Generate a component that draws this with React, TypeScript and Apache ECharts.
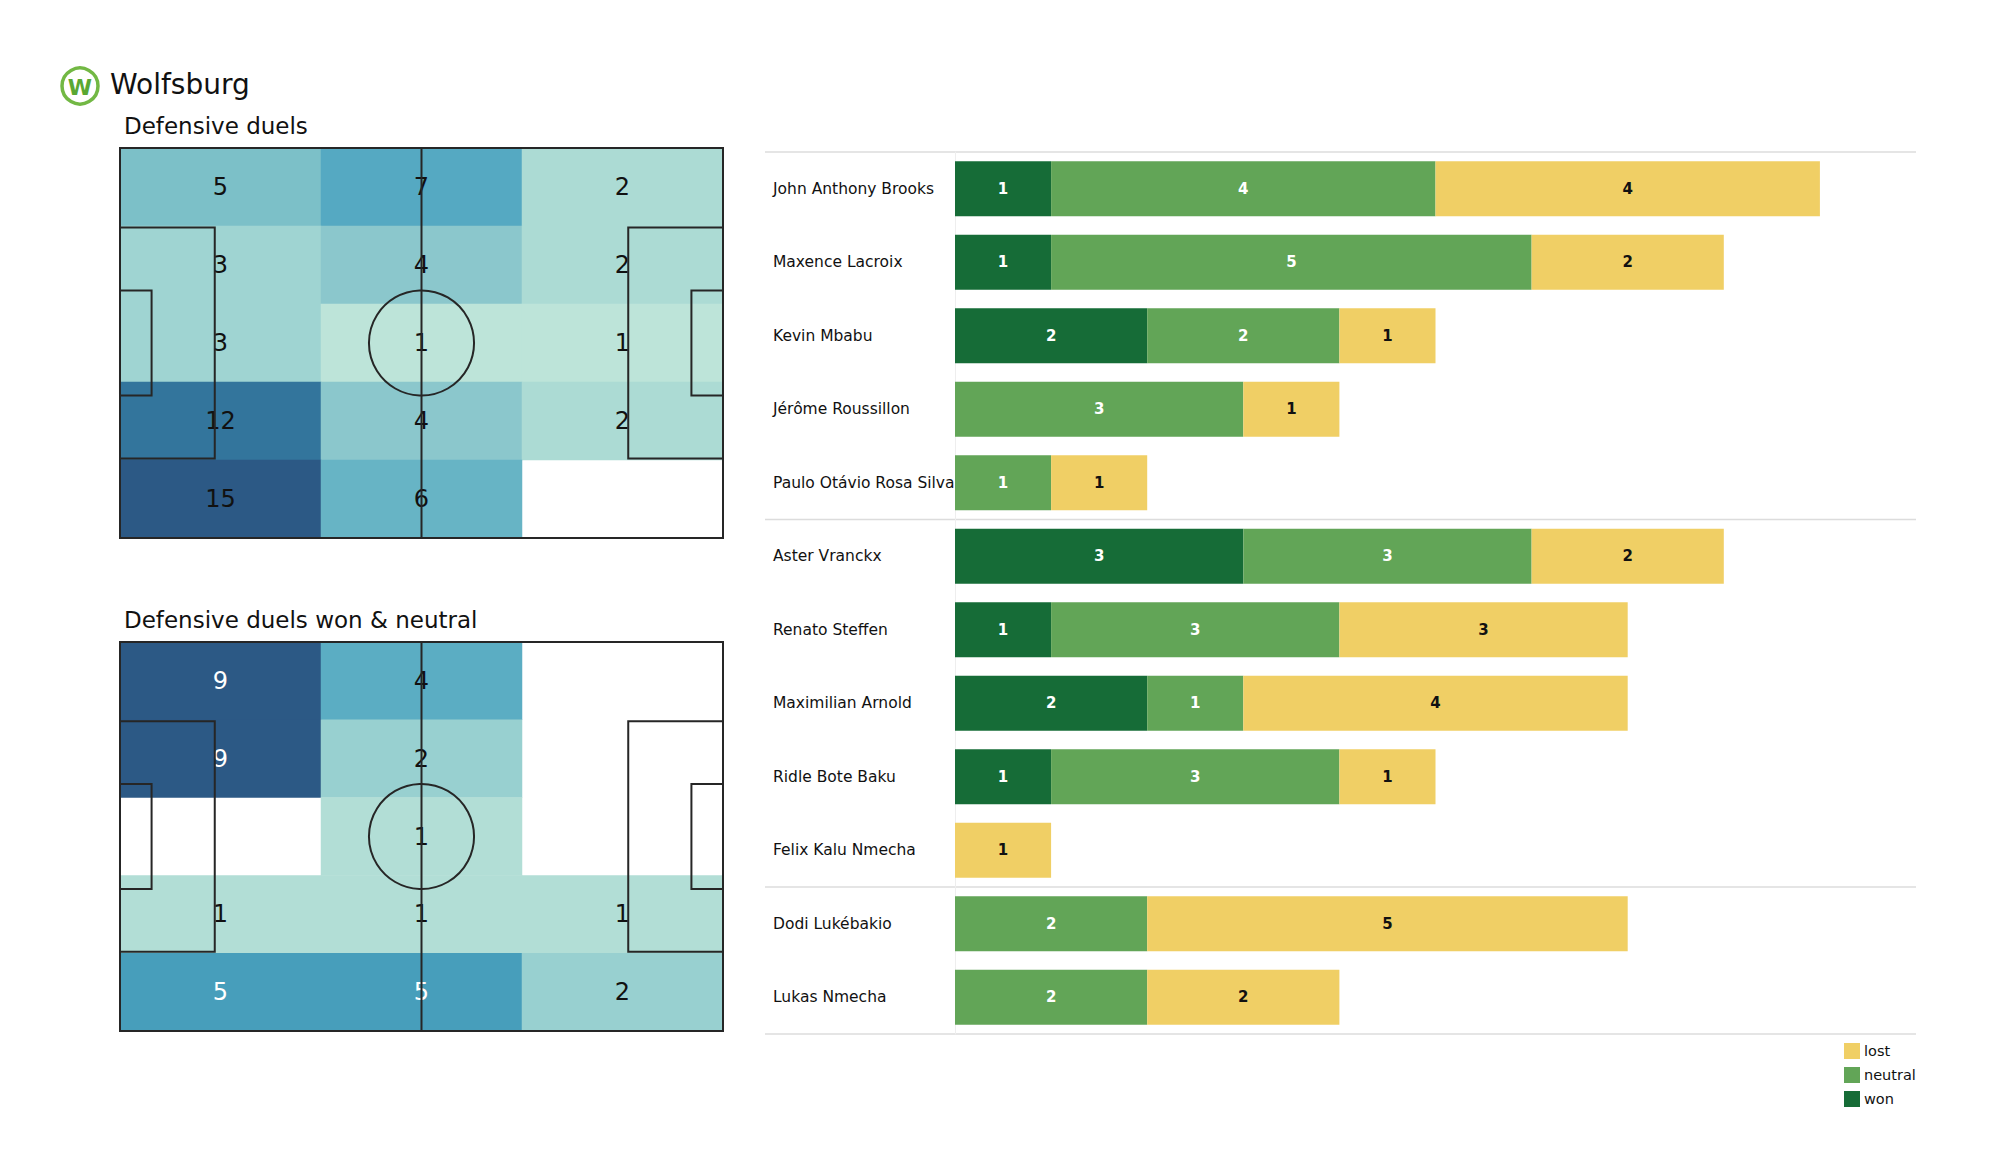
import React, { useEffect, useRef } from "react";
import * as echarts from "echarts";

// ---------- DATA ----------
const zoneCols = ["left", "centre", "right"];
const zoneRows = ["row1", "row2", "row3", "row4", "row5"];
// rows top -> bottom, columns left -> right
const defensiveDuels = [
  [5, 7, 2],
  [3, 4, 2],
  [3, 1, 1],
  [12, 4, 2],
  [15, 6, 0],
];
const defensiveDuelsWonNeutral = [
  [9, 4, 0],
  [9, 2, 0],
  [0, 1, 0],
  [1, 1, 1],
  [5, 5, 2],
];

const players = [
  "John Anthony Brooks",
  "Maxence Lacroix",
  "Kevin Mbabu",
  "Jérôme Roussillon",
  "Paulo Otávio Rosa Silva",
  "Aster Vranckx",
  "Renato Steffen",
  "Maximilian Arnold",
  "Ridle Bote Baku",
  "Felix Kalu Nmecha",
  "Dodi Lukébakio",
  "Lukas Nmecha",
];
const won = [1, 1, 2, 0, 0, 3, 1, 2, 1, 0, 0, 0];
const neutral = [4, 5, 2, 3, 1, 3, 3, 1, 3, 0, 2, 2];
const lost = [4, 2, 1, 1, 1, 2, 3, 4, 1, 1, 5, 2];
const groupSizes = [5, 5, 2];

// ---------- STYLE ----------
const FONT = "DejaVu Sans";
const C_WON = "#166c37";
const C_NEUTRAL = "#62a557";
const C_LOST = "#f0cf65";
const HEAT_COLORS = [
  "#c8eadc", "#bde4d9", "#acdbd4", "#9fd4d2", "#8bc7cc", "#7cc0c8",
  "#67b4c5", "#55a9c2", "#4aa2bd", "#4196b8", "#3b8ab0", "#377fa6",
  "#33759c", "#306a93", "#2e618c", "#2c5985",
];

const PITCH1 = { left: 120, top: 148, width: 603, height: 390 };
const PITCH2 = { left: 120, top: 642, width: 603, height: 389 };
const BAR = { left: 955, top: 152, width: 961, height: 882 };

function toHeat(matrix: number[][]) {
  const out: any[] = [];
  matrix.forEach((row, r) =>
    row.forEach((v, c) => {
      if (v > 0) out.push([c, r, v]);
    })
  );
  return out;
}

function pitchLines(p: { left: number; top: number; width: number; height: number }) {
  const sx = p.width / 105;
  const sy = p.height / 68;
  const stroke = { stroke: "#262626", lineWidth: 2, fill: "none" };
  const els: any[] = [];
  els.push({ type: "rect", shape: { x: p.left, y: p.top, width: p.width, height: p.height }, style: { ...stroke }, z: 50 });
  els.push({ type: "line", shape: { x1: p.left + p.width / 2, y1: p.top, x2: p.left + p.width / 2, y2: p.top + p.height }, style: { ...stroke }, z: 50 });
  els.push({ type: "circle", shape: { cx: p.left + p.width / 2, cy: p.top + p.height / 2, r: 9.15 * sx }, style: { ...stroke }, z: 50 });
  const boxes = [
    [16.5, 40.32],
    [5.5, 18.32],
  ];
  boxes.forEach(([d, w]) => {
    const y = p.top + ((68 - w) / 2) * sy;
    els.push({ type: "rect", shape: { x: p.left, y, width: d * sx, height: w * sy }, style: { ...stroke }, z: 50 });
    els.push({ type: "rect", shape: { x: p.left + p.width - d * sx, y, width: d * sx, height: w * sy }, style: { ...stroke }, z: 50 });
  });
  return els;
}

function heatSeries(matrix: number[][], gridIdx: number, whiteFrom: number) {
  return {
    type: "heatmap",
    xAxisIndex: gridIdx,
    yAxisIndex: gridIdx,
    data: toHeat(matrix).map((d: any) => ({
      value: d,
      label: { color: d[2] >= whiteFrom ? "#ffffff" : "#111111" },
    })),
    label: {
      show: true,
      fontFamily: FONT,
      fontSize: 24,
      formatter: (p: any) => String(p.value[2]),
      color: "#111111",
    },
    itemStyle: { borderWidth: 0 },
    emphasis: { disabled: true },
  };
}

export default function App() {
  const ref = useRef<HTMLDivElement>(null);

  useEffect(() => {
    if (!ref.current) return;
    const chart = echarts.init(ref.current, undefined, { renderer: "svg" });

    const h1 = heatSeries(defensiveDuels, 0, Infinity);
    const h2 = heatSeries(defensiveDuelsWonNeutral, 1, 5);

    const max1 = Math.max(...defensiveDuels.flat());
    const max2 = Math.max(...defensiveDuelsWonNeutral.flat());

    const barLabel = (color: string) => ({
      show: true,
      position: "inside",
      fontFamily: FONT,
      fontWeight: "bold",
      fontSize: 15,
      color,
      formatter: (p: any) => (p.value > 0 ? String(p.value) : ""),
    });

    const band = BAR.height / players.length;
    const sepIdx: number[] = [0];
    let acc = 0;
    groupSizes.forEach((g) => {
      acc += g;
      sepIdx.push(acc);
    });

    const graphics: any[] = [
      ...pitchLines(PITCH1),
      ...pitchLines(PITCH2),
      {
        type: "circle",
        shape: { cx: 80, cy: 86, r: 18 },
        style: { stroke: "#72b844", lineWidth: 3.5, fill: "#ffffff" },
      },
      {
        type: "text",
        style: {
          x: 80, y: 87, text: "W", fill: "#5aa832", font: `bold 22px ${FONT}`,
          align: "center", verticalAlign: "middle",
        },
      },
      {
        type: "text",
        style: { x: 110, y: 84, text: "Wolfsburg", fill: "#111", font: `28px ${FONT}`, verticalAlign: "middle" },
      },
      {
        type: "text",
        style: { x: 124, y: 126, text: "Defensive duels", fill: "#111", font: `23px ${FONT}`, verticalAlign: "middle" },
      },
      {
        type: "text",
        style: { x: 124, y: 620, text: "Defensive duels won & neutral", fill: "#111", font: `23px ${FONT}`, verticalAlign: "middle" },
      },
      ...sepIdx.map((k) => ({
        type: "line",
        shape: { x1: 765, y1: BAR.top + k * band, x2: BAR.left + BAR.width, y2: BAR.top + k * band },
        style: { stroke: "#dcdcdc", lineWidth: 1.5 },
        z: 0,
      })),
    ];

    const hiddenCat = (data: string[], gridIndex: number, inverse = false) => ({
      type: "category",
      data,
      gridIndex,
      inverse,
      show: false,
    });

    chart.setOption({
      animation: false,
      backgroundColor: "#ffffff",
      textStyle: { fontFamily: FONT },
      grid: [
        { ...PITCH1, containLabel: false },
        { ...PITCH2, containLabel: false },
        { ...BAR, containLabel: false },
      ],
      xAxis: [
        hiddenCat(zoneCols, 0),
        hiddenCat(zoneCols, 1),
        { type: "value", gridIndex: 2, min: 0, max: 10, show: false },
      ],
      yAxis: [
        hiddenCat(zoneRows, 0, true),
        hiddenCat(zoneRows, 1, true),
        {
          type: "category",
          gridIndex: 2,
          data: players,
          inverse: true,
          axisTick: { show: false },
          axisLine: { show: true, lineStyle: { color: "#eeeeee", width: 1 } },
          axisLabel: {
            align: "left",
            margin: BAR.left - 773,
            fontFamily: FONT,
            fontSize: 15.5,
            color: "#111",
          },
          splitLine: { show: false },
        },
      ],
      visualMap: [
        { type: "continuous", seriesIndex: 0, min: 0, max: max1, show: false, inRange: { color: HEAT_COLORS } },
        { type: "continuous", seriesIndex: 1, min: 0, max: max2, show: false, inRange: { color: HEAT_COLORS } },
      ],
      legend: {
        orient: "vertical",
        left: 1839,
        top: 1038,
        itemWidth: 16,
        itemHeight: 16,
        itemGap: 8,
        icon: "rect",
        data: ["lost", "neutral", "won"],
        textStyle: { fontFamily: FONT, fontSize: 14.5, color: "#111", padding: [0, 0, 0, -1] },
      },
      series: [
        h1,
        h2,
        {
          name: "won",
          type: "bar",
          stack: "duels",
          xAxisIndex: 2,
          yAxisIndex: 2,
          data: won,
          barCategoryGap: "25%",
          itemStyle: { color: C_WON },
          label: barLabel("#ffffff"),
        },
        {
          name: "neutral",
          type: "bar",
          stack: "duels",
          xAxisIndex: 2,
          yAxisIndex: 2,
          data: neutral,
          barCategoryGap: "25%",
          itemStyle: { color: C_NEUTRAL },
          label: barLabel("#ffffff"),
        },
        {
          name: "lost",
          type: "bar",
          stack: "duels",
          xAxisIndex: 2,
          yAxisIndex: 2,
          data: lost,
          barCategoryGap: "25%",
          itemStyle: { color: C_LOST },
          label: barLabel("#111111"),
        },
      ],
      graphic: graphics,
    });

    return () => chart.dispose();
  }, []);

  return (
    <div
      ref={ref}
      style={{ position: "fixed", left: 0, top: 0, width: 2000, height: 1175, background: "#fff" }}
    />
  );
}
